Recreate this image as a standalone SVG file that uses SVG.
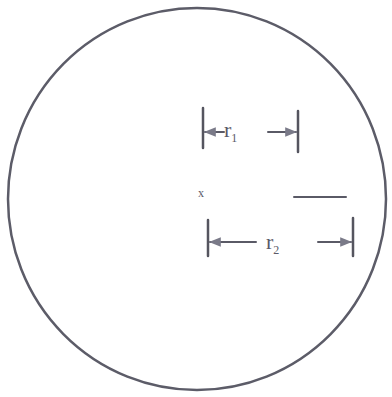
<svg xmlns="http://www.w3.org/2000/svg" width="392" height="397" viewBox="0 0 392 397">
<defs>
<style>
.ln{stroke:#5a5a66;stroke-width:2;fill:none;stroke-linecap:round}
.bar{stroke:#55555f;stroke-width:2.5;fill:none;stroke-linecap:round}
.lbl{font-family:"Liberation Serif",serif;font-size:22px;fill:#5a5a68}
.sub{font-family:"Liberation Serif",serif;font-size:12px;fill:#5a5a68}
</style>
<marker id="ah" viewBox="0 0 10 10" refX="9" refY="5" markerWidth="6" markerHeight="6" orient="auto-start-reverse">
<path d="M0,1 L10,5 L0,9 z" fill="#7a7a88"/>
</marker>
</defs>
<rect width="392" height="397" fill="#ffffff"/>
<g id="circle">
<ellipse cx="197" cy="199" rx="189" ry="191" fill="none" stroke="#5c5c68" stroke-width="2.5"/>
</g>
<g id="r1">
<line class="bar" x1="203" y1="108" x2="203" y2="148"/>
<line class="bar" x1="298" y1="111" x2="298" y2="152"/>
<text class="lbl" x="224" y="137">r<tspan class="sub" dy="5">1</tspan></text>
</g>
<g id="marks">
<text class="sub" x="198" y="197">x</text>
<line class="ln" x1="294" y1="197" x2="346" y2="197" stroke-width="3" stroke="#7a7a88"/>
</g>
<g id="r2">
<line class="bar" x1="208" y1="220" x2="208" y2="256"/>
<line class="bar" x1="353" y1="218" x2="353" y2="256"/>
<text class="lbl" x="266" y="249">r<tspan class="sub" dy="5">2</tspan></text>
</g>
<g id="connectors">
<line class="ln" x1="224" y1="132" x2="205" y2="132" marker-end="url(#ah)"/>
<line class="ln" x1="268" y1="132" x2="296" y2="132" marker-end="url(#ah)"/>
<line class="ln" x1="256" y1="242" x2="210" y2="242" marker-end="url(#ah)"/>
<line class="ln" x1="318" y1="242" x2="351" y2="242" marker-end="url(#ah)"/>
</g>
</svg>
